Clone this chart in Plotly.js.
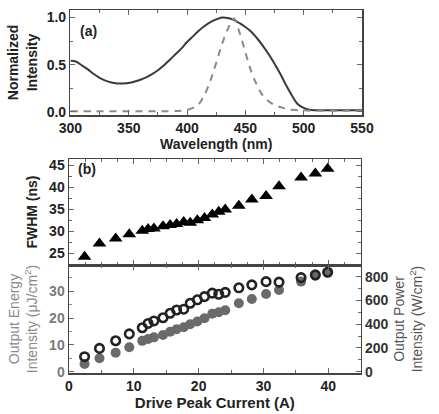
<!DOCTYPE html>
<html>
<head>
<meta charset="utf-8">
<script src="https://cdn.plot.ly/plotly-3.0.1.min.js"></script>
<style>
  html, body { margin: 0; padding: 0; background: #fff; }
  #chart { width: 439px; height: 414px; }
</style>
</head>
<body>
<div id="chart"></div>
<script>
// (a) spectra: wavelength (nm) and normalized intensity
const wlSolid = [300, 305, 310, 315, 320, 325, 330, 335, 340, 345, 350, 355, 360, 365, 370, 375, 380, 385, 390, 395,
                 400, 405, 410, 415, 420, 425, 430, 435, 440, 445, 450, 455, 460, 465, 470, 475, 480, 485, 490, 495,
                 500, 505, 510, 520, 530, 540, 550];
const solidIntensity = [0.54, 0.53, 0.49, 0.45, 0.40, 0.36, 0.33, 0.31, 0.30, 0.30, 0.305, 0.32, 0.34, 0.365, 0.40, 0.44, 0.49, 0.55, 0.61, 0.67,
                        0.74, 0.80, 0.86, 0.91, 0.95, 0.98, 1.0, 0.995, 0.975, 0.94, 0.90, 0.85, 0.78, 0.70, 0.61, 0.51, 0.40, 0.28, 0.17, 0.08,
                        0.04, 0.02, 0.015, 0.015, 0.015, 0.015, 0.015];
const wlDashed = [300, 320, 340, 360, 380, 395, 400, 405, 410, 415, 420, 425, 430, 435, 440, 445, 450, 455, 460, 465,
                  470, 475, 480, 485, 490, 500, 510, 520, 530, 540, 550];
const dashedIntensity = [0.005, 0.005, 0.005, 0.005, 0.005, 0.01, 0.02, 0.04, 0.08, 0.18, 0.33, 0.52, 0.72, 0.88, 0.99, 0.84, 0.63, 0.43, 0.28, 0.17,
                         0.11, 0.07, 0.05, 0.03, 0.02, 0.015, 0.01, 0.01, 0.01, 0.01, 0.01];

// (b) drive peak current (A) and measured quantities
const current = [2.4, 4.7, 7.2, 9.3, 11.3, 12.2, 13.1, 14.5, 15.6, 16.6, 17.7, 18.7, 19.8, 20.9, 22.1, 23.1, 24.1, 26.2, 28.2, 30.4, 32.4, 35.8, 38.0, 39.9];
const fwhm = [24.2, 27.2, 28.3, 29.3, 30.1, 30.5, 30.6, 31.1, 31.4, 31.6, 32.1, 31.9, 32.5, 33.0, 33.8, 34.4, 34.9, 35.8, 37.2, 38.0, 40.2, 42.2, 43.1, 44.2];
const energyIntensity = [2.9, 5.0, 7.1, 9.1, 11.5, 12.2, 12.8, 13.7, 14.9, 15.8, 16.6, 17.7, 18.7, 19.9, 21.6, 22.2, 22.9, 25.5, 27.1, 29.0, 30.5, 33.6, 35.8, 37.1];
const powerIntensity = [126, 196, 260, 318, 370, 406, 427, 454, 492, 519, 526, 576, 605, 632, 661, 652, 668, 706, 731, 758, 754, 792, 815, 837];

const FONT = 'Liberation Sans, Arial, sans-serif';
const DARK = '#222';
const GREY = '#7a7a7a';
const LINE = '#444';

const tickFont = {family: FONT, size: 14, color: DARK, weight: 'bold'};
const titleFont = {family: FONT, size: 14, color: DARK, weight: 'bold'};

function frame(extra) {
  return Object.assign({
    showline: true, linecolor: LINE, linewidth: 1.5,
    ticks: 'inside', ticklen: 5, tickwidth: 1, tickcolor: '#666',
    mirror: 'ticks', zeroline: false, showgrid: false,
    tickfont: tickFont,
  }, extra);
}

const traces = [
  {x: wlSolid, y: solidIntensity, xaxis: 'x', yaxis: 'y', type: 'scatter', mode: 'lines',
   line: {color: '#3a3a3a', width: 2, shape: 'spline'}, hoverinfo: 'skip'},
  {x: wlDashed, y: dashedIntensity, xaxis: 'x', yaxis: 'y', type: 'scatter', mode: 'lines',
   line: {color: '#8a8a8a', width: 2, dash: '7px,6px', shape: 'spline'}, hoverinfo: 'skip'},
  {x: current, y: fwhm, xaxis: 'x2', yaxis: 'y2', type: 'scatter', mode: 'markers',
   marker: {symbol: 'triangle-up', size: 12, color: '#000'}},
  {x: current, y: energyIntensity, xaxis: 'x3', yaxis: 'y3', type: 'scatter', mode: 'markers',
   marker: {symbol: 'circle', size: 10, color: '#6a6a6a'}},
  {x: current, y: powerIntensity, xaxis: 'x3', yaxis: 'y4', type: 'scatter', mode: 'markers',
   marker: {symbol: 'circle-open', size: 8.5, color: '#222', line: {width: 2.6, color: '#222'}}},
];

const layout = {
  width: 439, height: 414,
  margin: {l: 69, r: 77, t: 10, b: 41},
  paper_bgcolor: '#fff', plot_bgcolor: '#fff',
  showlegend: false,
  font: {family: FONT},
  xaxis: frame({domain: [0.005, 1], anchor: 'y', range: [300, 550], dtick: 50,
    minor: {dtick: 25, ticks: 'inside', ticklen: 3, tickcolor: '#666'},
    title: {text: 'Wavelength (nm)', font: titleFont, standoff: 2}}),
  yaxis: frame({domain: [0.7107, 1], anchor: 'x', range: [-0.035, 1.08], dtick: 0.5, tickformat: '.1f',
    minor: {dtick: 0.25, ticks: 'inside', ticklen: 3, tickcolor: '#666'},
    title: {text: 'Normalized<br>Intensity', font: titleFont, standoff: 6}}),
  xaxis2: frame({domain: [0, 0.9956], anchor: 'y2', range: [0, 45], dtick: 10, showticklabels: false,
    minor: {dtick: 2.5, ticks: 'inside', ticklen: 3, tickcolor: '#666'}}),
  yaxis2: frame({domain: [0.2975, 0.5895], anchor: 'x2', range: [22.3, 46.4], dtick: 5,
    minor: {dtick: 2.5, ticks: 'inside', ticklen: 3, tickcolor: '#666'},
    title: {text: 'FWHM (ns)', font: titleFont, standoff: 8}}),
  xaxis3: frame({domain: [0, 0.9956], anchor: 'y3', range: [0, 45], dtick: 10,
    minor: {dtick: 5, ticks: 'inside', ticklen: 3, tickcolor: '#666'},
    title: {text: 'Drive Peak Current (A)', font: {family: FONT, size: 15, color: DARK, weight: 'bold'}, standoff: 3}}),
  yaxis3: frame({domain: [0, 0.2975], anchor: 'x3', range: [-0.5, 39.8], dtick: 10, mirror: false,
    tickfont: {family: FONT, size: 14, color: GREY, weight: 'bold'},
    minor: {dtick: 5, ticks: 'inside', ticklen: 3, tickcolor: '#888'},
    title: {text: 'Output Energy<br>Intensity (\u03bcJ/cm<sup>2</sup>)', font: {family: FONT, size: 14, color: '#8a8a8a'}, standoff: 8}}),
  yaxis4: frame({domain: [0, 0.2975], anchor: 'x3', overlaying: 'y3', side: 'right', range: [-11.3, 898], dtick: 200,
    mirror: false,
    tickfont: {family: FONT, size: 14, color: '#333', weight: 'bold'},
    minor: {dtick: 100, ticks: 'inside', ticklen: 3, tickcolor: '#666'},
    title: {text: 'Output Power<br>Intensity (W/cm<sup>2</sup>)', font: {family: FONT, size: 14, color: '#555'}, standoff: 6}}),
  annotations: [
    {text: '(a)', xref: 'paper', yref: 'paper', x: 0.03, y: 0.97, xanchor: 'left', yanchor: 'top',
     showarrow: false, font: {family: FONT, size: 14, color: DARK, weight: 'bold'}},
    {text: '(b)', xref: 'paper', yref: 'paper', x: 0.025, y: 0.59, xanchor: 'left', yanchor: 'top',
     showarrow: false, font: {family: FONT, size: 14, color: DARK, weight: 'bold'}},
  ],
};

Plotly.newPlot('chart', traces, layout, {staticPlot: true, displayModeBar: false});
</script>
</body>
</html>
